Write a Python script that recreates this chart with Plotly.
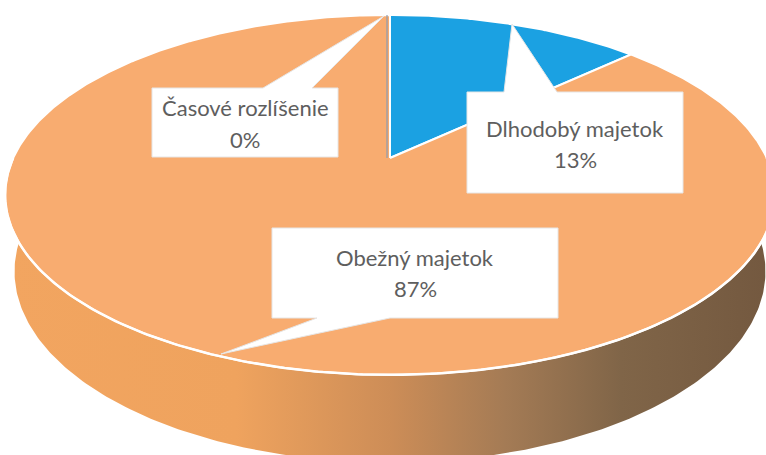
import numpy as np
import plotly.graph_objects as go

# ---- data ----
categories = ["Dlhodobý majetok", "Obežný majetok", "Časové rozlíšenie"]
values = [13, 87, 0]
slice_colors = ["#1BA1E2", "#F8AC70", "#8C9BB0"]

# ---- 3D perspective pie geometry (style / layout parameters) ----
W, H = 766, 455
CX, CY = 390.0, 158.0        # projected centre of the top face
K = 376.8                    # scale
SA = 0.4575                  # sin(tilt)
CA = np.sqrt(1 - SA ** 2)    # cos(tilt)
E = 0.2306                   # radius / camera distance
T = 0.23                     # thickness / radius


def proj(theta_deg, h=0.0):
    th = np.radians(np.asarray(theta_deg, dtype=float))
    x = np.sin(th)
    z = np.cos(th)
    y = h
    depth = 1 + E * (-y * SA + z * CA)
    sx = K * x / depth
    sy = K * (y * CA + z * SA) / depth
    return CX + sx, CY - sy


fig = go.Figure()

# side wall of the cylinder
th_side = np.linspace(70, 290, 300)
tx, ty = proj(th_side, 0.0)
bx, by = proj(th_side[::-1], -T)
fig.add_trace(go.Scatter(
    x=np.concatenate([tx, bx]), y=np.concatenate([ty, by]),
    mode="lines", fill="toself", line=dict(width=0),
    fillgradient=dict(type="horizontal", colorscale=[
        [0.0, "#F2A560"], [0.3, "#EFA35E"], [0.5, "#CD8D57"],
        [0.65, "#A47B55"], [0.8, "#806548"], [1.0, "#73583F"]]),
    hoverinfo="skip", showlegend=False))

# top face slices
total = float(sum(values))
start = 0.0
for cat, v, col in zip(categories, values, slice_colors):
    span = 360.0 * v / total
    end = start + span
    if span > 0:
        n = max(3, int(span * 2))
        th = np.linspace(start, end, n)
        rx, ry = proj(th, 0.0)
        xs = np.concatenate([[CX], rx, [CX]])
        ys = np.concatenate([[CY], ry, [CY]])
        fig.add_trace(go.Scatter(
            x=xs, y=ys, mode="lines", fill="toself", fillcolor=col,
            line=dict(color="white", width=2), name=cat,
            hoverinfo="skip", showlegend=False))
    else:
        px, py = proj([start], 0.0)
        fig.add_trace(go.Scatter(
            x=[CX - 3, px[0] - 3], y=[CY, py[0]], mode="lines",
            line=dict(color=col, width=1.2), name=cat,
            hoverinfo="skip", showlegend=False))
    start = end

# white rim highlight along the front edge of the top face
th_rim = np.linspace(90, 270, 300)
rx, ry = proj(th_rim, 0.0)
fig.add_trace(go.Scatter(x=rx, y=ry, mode="lines",
                         line=dict(color="white", width=2.5),
                         hoverinfo="skip", showlegend=False))

# ---- data-callout labels ----
callout_paths = [
    "M467,92 L504,92 L512,24 L557,92 L683,92 L683,193 L467,193 Z",
    "M272,228 L558,228 L558,318 L390,318 L221,354 L317,318 L272,318 Z",
    "M152,88 L263,88 L384,16 L312,88 L338,88 L338,157 L152,157 Z",
]
label_pos = [(575, 128, 159), (415, 257, 288), (245, 107, 139)]

shapes = []
annotations = []
for cat, v, path, (lx, ly1, ly2) in zip(categories, values, callout_paths, label_pos):
    shapes.append(dict(type="path", path=path, xref="x", yref="y",
                       fillcolor="white", line=dict(color="#E6E6E6", width=1),
                       layer="above"))
    pct = f"{round(v / total * 100)}%"
    for txt, yy in ((cat, ly1), (pct, ly2)):
        annotations.append(dict(x=lx, y=yy, xref="x", yref="y", text=txt,
                                showarrow=False,
                                font=dict(family="Lato", size=22, color="#5E5E5E"),
                                xanchor="center", yanchor="middle"))

fig.update_layout(
    width=W, height=H,
    margin=dict(l=0, r=0, t=0, b=0),
    paper_bgcolor="white", plot_bgcolor="white",
    xaxis=dict(range=[0, W], visible=False, fixedrange=True),
    yaxis=dict(range=[H, 0], visible=False, fixedrange=True),
    shapes=shapes, annotations=annotations,
    showlegend=False,
)

fig.write_html("out.html", config={"displayModeBar": False},
               post_script="document.body.style.margin='0';document.body.style.overflow='hidden';")
